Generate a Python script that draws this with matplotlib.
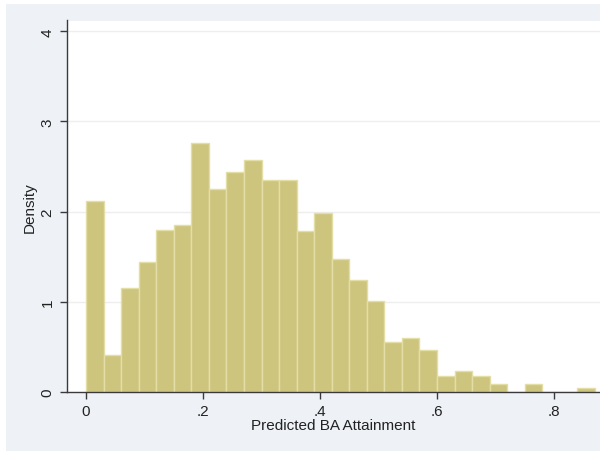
import numpy as np
import matplotlib
matplotlib.use("Agg")
import matplotlib.pyplot as plt
from matplotlib.patches import Rectangle

plt.rcParams['font.family'] = ['Liberation Sans', 'DejaVu Sans']

# histogram of predicted values, bin width .03 starting at 0
bin_start = 0.0
bin_width = 0.03
density = [2.12, 0.41, 1.15, 1.44, 1.80, 1.85, 2.76, 2.25, 2.44, 2.57,
           2.35, 2.35, 1.79, 1.98, 1.47, 1.24, 1.01, 0.55, 0.60, 0.47,
           0.18, 0.23, 0.18, 0.09, 0.0, 0.09, 0.0, 0.0, 0.045]
xticks = [0, 0.2, 0.4, 0.6, 0.8]
xticklabels = ['0', '.2', '.4', '.6', '.8']
yticks = [0, 1, 2, 3, 4]

bar_col = '#CDC47D'
edge_col = '#E3DEA6'
bg_col = '#EEF2F7'

fig = plt.figure(figsize=(6.0, 4.52), dpi=100)
fig.patch.set_facecolor('white')
# outer stata-like panel
fig.patches.append(Rectangle((6 / 600, 0), 1, 1 - 5 / 452, transform=fig.transFigure,
                             facecolor=bg_col, edgecolor='none', zorder=-1))

ax = fig.add_axes([67 / 600, 59 / 452, 533 / 600, 371.5 / 452])
ax.set_facecolor('white')

edges = bin_start + bin_width * np.arange(len(density))
ax.bar(edges, density, width=bin_width, align='edge', color=bar_col,
       edgecolor=edge_col, linewidth=1.0, zorder=2)

ax.set_xlim(-0.0325, 0.8786)
ax.set_ylim(0, 4.12)
ax.set_xticks(xticks)
ax.set_xticklabels(xticklabels)
ax.set_yticks(yticks)
ax.set_yticklabels([str(v) for v in yticks], rotation=90, va='center')

for y in yticks[1:]:
    ax.axhline(y, color='#EEEEEE', linewidth=1.0, zorder=1)

for s in ['top', 'right']:
    ax.spines[s].set_visible(False)
for s in ['left', 'bottom']:
    ax.spines[s].set_color('#3a3a3a')
    ax.spines[s].set_linewidth(1.0)

ax.tick_params(axis='both', direction='out', length=5, width=1, color='#3a3a3a',
               labelsize=11, labelcolor='#222222', pad=4)

ax.set_xlabel('Predicted BA Attainment', fontsize=11, color='#222222', labelpad=0)
ax.set_ylabel('Density', fontsize=11, color='#222222', labelpad=3)

fig.savefig('out.png', dpi=100, facecolor=fig.get_facecolor())
